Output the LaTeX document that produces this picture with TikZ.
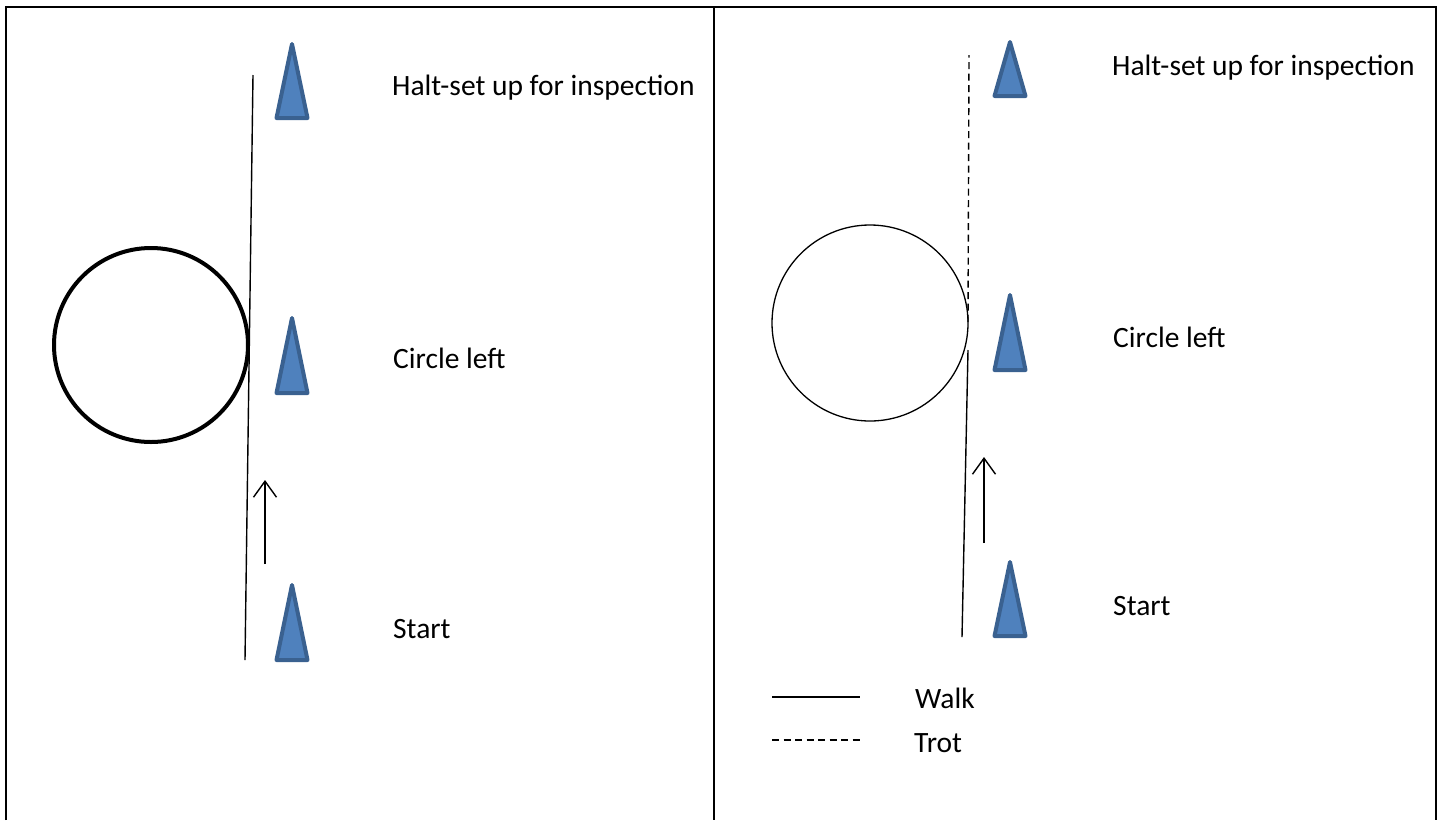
\documentclass[tikz,border=0pt]{standalone}
\usepackage{fontspec}
\setmainfont{Carlito}
\usetikzlibrary{arrows.meta}
\definecolor{conefill}{HTML}{4F81BD}
\definecolor{coneline}{HTML}{3A6190}
\begin{document}
\begin{tikzpicture}[x=1pt,y=-1pt,
    cone/.style={fill=conefill,draw=coneline,line width=4pt,line join=round},
    lbl/.style={anchor=base west,inner sep=0pt,font=\fontsize{29.5}{35}\selectfont},
    track/.style={line width=1.4pt},
    trot/.style={track,dash pattern=on 7pt off 4.5pt},
    dir/.style={line width=1.4pt,-{Straight Barb[length=16pt,width=23pt]}}]
    \useasboundingbox (0,0) rectangle (1442,820);
    \draw[line width=2pt] (6,820) -- (6,7) -- (1436,7) -- (1436,820);%frame of the two cells
    \draw[line width=2pt] (714,7) -- (714,820);
    % left cell: all walk
    \draw[line width=4pt] (151,345) circle (97pt);
    \coordinate (topL) at (253,75);
    \coordinate (botL) at (245,660);
    \draw[track] (botL) -- (topL);
    \coordinate (tailL) at (265,564);
    \coordinate (tipL) at (265,480);
    \draw[dir] (tailL) -- (tipL);
    % right cell: walk then trot
    \draw[line width=1.3pt] (870,323) circle (98pt);
    \coordinate (topR) at (969,55);
    \coordinate (midR) at (968,322);
    \coordinate (turnR) at (968,350);
    \coordinate (botR) at (962,637);
    \draw[trot] (midR) -- (topR);
    \draw[track] (botR) -- (turnR);
    \coordinate (tailR) at (984,543);
    \coordinate (tipR) at (984,457);
    \draw[dir] (tailR) -- (tipR);
    % cones
    \foreach \x/\y/\h in {292/44/74, 292/318/75, 292/585/75, 1010/42/54, 1010/295/75, 1010/562/74}
        \draw[cone] (\x,\y) -- (\x+15.5,\y+\h) -- (\x-15.5,\y+\h) -- cycle;
    % labels
    \node[lbl] (haltL) at (392,95) {Halt-set up for inspection};
    \node[lbl] (circleL) at (393,368) {Circle left};
    \node[lbl] (startL) at (393,638) {Start};
    \node[lbl] (haltR) at (1112,75) {Halt-set up for inspection};
    \node[lbl] (circleR) at (1113,347) {Circle left};
    \node[lbl] (startR) at (1113,615) {Start};
    % legend
    \node[lbl] (walk) at (915,708) {Walk};
    \node[lbl] (trot) at (914,752) {Trot};
    \coordinate (walkA) at (772,697);
    \coordinate (walkB) at (860,697);
    \coordinate (trotA) at (772,740);
    \coordinate (trotB) at (860,740);
    \draw[track] (walkA) -- (walkB);
    \draw[trot] (trotA) -- (trotB);
\end{tikzpicture}
\end{document}
